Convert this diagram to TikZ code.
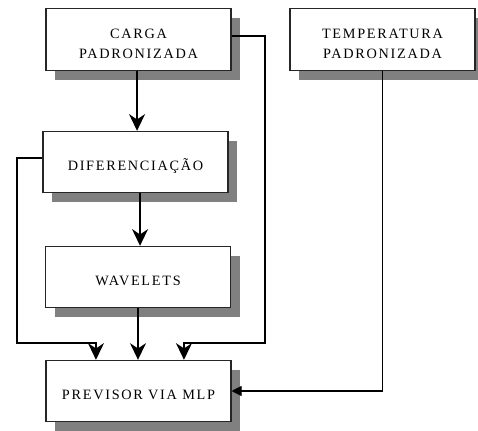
\documentclass[tikz,border=0pt]{standalone}
\usepackage{fontspec}
\setmainfont{Liberation Serif}[LetterSpace=12]
\usetikzlibrary{arrows.meta,shadows}
\definecolor{shadowgray}{HTML}{808080}
\begin{document}
\begin{tikzpicture}[x=0.75pt,y=-0.75pt,
  box/.style={draw=black!85,line width=0.8pt,fill=white,minimum width=138.75pt,minimum height=46pt,inner sep=0pt,
    general shadow={fill=shadowgray,shadow xshift=7.1pt,shadow yshift=-7.1pt},
    font=\fontsize{10.7}{15.5}\selectfont,align=center},
  onebox/.style={box,text height=12.3pt,text depth=0pt},
  twobox/.style={box,text height=29.2pt,text depth=0pt},
  big/.style={line width=1.2pt,-{Stealth[length=12.5pt,width=12pt,inset=4pt]}},
  thinbig/.style={line width=0.9pt,-{Stealth[length=12.5pt,width=12pt,inset=4pt]}},
  small/.style={line width=0.8pt,-{Triangle[length=7.5pt,width=7.5pt]}}]
\useasboundingbox (0,0) rectangle (478,431);
\node[twobox] (carga) at (138.5,39.5) {CARGA\\PADRONIZADA};
\node[twobox] (temp) at (382.5,39.5) {TEMPERATURA\\PADRONIZADA};
\node[onebox] (difer) at (135.5,162) {DIFERENCIAÇÃO};
\node[onebox] (wav) at (138,277) {WAVELETS};
\node[onebox] (prev) at (138.5,391) {PREVISOR VIA MLP};
\coordinate (bl) at (17,343);
\coordinate (br) at (265,343);
\draw[thinbig] ([xshift=-1.1pt]carga.south) -- ([xshift=-1.1pt]carga.south |- difer.north);
\draw[big] ([xshift=3.4pt]difer.south) -- ([xshift=3.4pt]difer.south |- wav.north);
\draw[big] (wav.south) -- (wav.south |- prev.north);
\draw[big] ([yshift=3pt]difer.west) -| (bl) -| ([xshift=-31.9pt]prev.north);
\draw[big] ([yshift=2.6pt]carga.east) -| (br) -| ([xshift=34.1pt]prev.north);
\draw[small] (temp.south) |- (prev.east);
\end{tikzpicture}
\end{document}
